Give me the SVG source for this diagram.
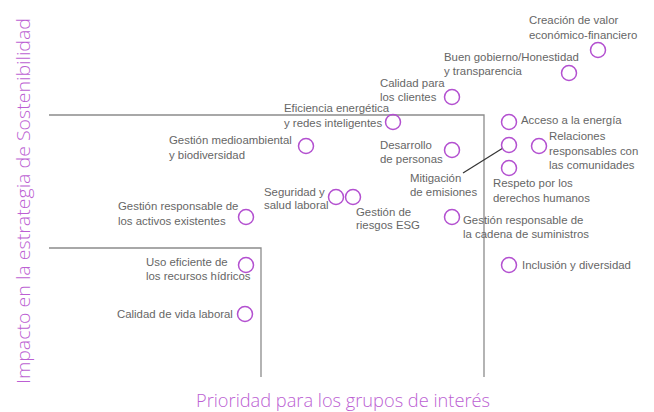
<svg xmlns="http://www.w3.org/2000/svg" width="654" height="412" viewBox="0 0 654 412">
<style>
.t{font-family:"Liberation Sans",Arial,sans-serif;font-size:11.4px;fill:#666}
.ax{font-family:"Open Sans","Liberation Sans",sans-serif;font-weight:300;font-size:19px;fill:#bc5fd3}
.c{fill:none;stroke:#b350d0;stroke-width:1.5}
.g{fill:none;stroke:#8c8c8c;stroke-width:1.3}
</style>
<rect width="654" height="412" fill="#fff"/>
<g id="grid">
<polyline class="g" points="49,115 484,115 484,377"/>
<polyline class="g" points="49,248 261,248 261,377"/>
</g>
<g id="axes">
<text class="ax" x="343" y="407" text-anchor="middle" textLength="294" lengthAdjust="spacingAndGlyphs">Prioridad para los grupos de interés</text>
<text class="ax" transform="translate(30,201) rotate(-90)" x="0" y="0" text-anchor="middle" textLength="366" lengthAdjust="spacingAndGlyphs">Impacto en la estrategia de Sostenibilidad</text>
</g>
<g id="connectors">
<line x1="503" y1="148" x2="463" y2="173" stroke="#333" stroke-width="1.2"/>
</g>
<g id="n-creacion"><circle class="c" cx="598" cy="50" r="7.5"/><text class="t" x="529" y="24">Creación de valor</text><text class="t" x="529" y="39">económico-financiero</text></g>
<g id="n-buengobierno"><circle class="c" cx="569" cy="73" r="7.5"/><text class="t" x="444" y="61">Buen gobierno/Honestidad</text><text class="t" x="444" y="75">y transparencia</text></g>
<g id="n-calidadclientes"><circle class="c" cx="452" cy="97" r="7.5"/><text class="t" x="380" y="87">Calidad para</text><text class="t" x="380" y="101">los clientes</text></g>
<g id="n-eficiencia"><circle class="c" cx="393" cy="122" r="7.5"/><text class="t" x="284" y="112">Eficiencia energética</text><text class="t" x="284" y="127">y redes inteligentes</text></g>
<g id="n-acceso"><circle class="c" cx="509" cy="122" r="7.5"/><text class="t" x="521" y="124">Acceso a la energía</text></g>
<g id="n-medioambiental"><circle class="c" cx="306" cy="146" r="7.5"/><text class="t" x="169" y="144">Gestión medioambiental</text><text class="t" x="169" y="159">y biodiversidad</text></g>
<g id="n-desarrollo"><circle class="c" cx="452" cy="150" r="7.5"/><text class="t" x="380" y="149">Desarrollo</text><text class="t" x="380" y="163">de personas</text></g>
<g id="n-mitigacion"><circle class="c" cx="509" cy="145" r="7.5"/><text class="t" x="410" y="182">Mitigación</text><text class="t" x="410" y="196">de emisiones</text></g>
<g id="n-relaciones"><circle class="c" cx="539" cy="146" r="7.5"/><text class="t" x="549" y="140">Relaciones</text><text class="t" x="549" y="155">responsables con</text><text class="t" x="549" y="169">las comunidades</text></g>
<g id="n-respeto"><circle class="c" cx="509" cy="168" r="7.5"/><text class="t" x="493" y="187">Respeto por los</text><text class="t" x="493" y="202">derechos humanos</text></g>
<g id="n-seguridad"><circle class="c" cx="336" cy="197" r="7.5"/><text class="t" x="264" y="196">Seguridad y</text><text class="t" x="264" y="209">salud laboral</text></g>
<g id="n-riesgos"><circle class="c" cx="353" cy="197" r="7.5"/><text class="t" x="356" y="216">Gestión de</text><text class="t" x="356" y="229">riesgos ESG</text></g>
<g id="n-activos"><circle class="c" cx="246" cy="217" r="7.5"/><text class="t" x="118" y="210">Gestión responsable de</text><text class="t" x="118" y="225">los activos existentes</text></g>
<g id="n-cadena"><circle class="c" cx="452" cy="217" r="7.5"/><text class="t" x="463" y="224">Gestión responsable de</text><text class="t" x="463" y="238">la cadena de suministros</text></g>
<g id="n-inclusion"><circle class="c" cx="509" cy="265" r="7.5"/><text class="t" x="522" y="269">Inclusión y diversidad</text></g>
<g id="n-hidricos"><circle class="c" cx="246" cy="265" r="7.5"/><text class="t" x="146" y="266">Uso eficiente de</text><text class="t" x="146" y="280">los recursos hídricos</text></g>
<g id="n-vidalaboral"><circle class="c" cx="245" cy="314" r="7.5"/><text class="t" x="117" y="318">Calidad de vida laboral</text></g>
</svg>
